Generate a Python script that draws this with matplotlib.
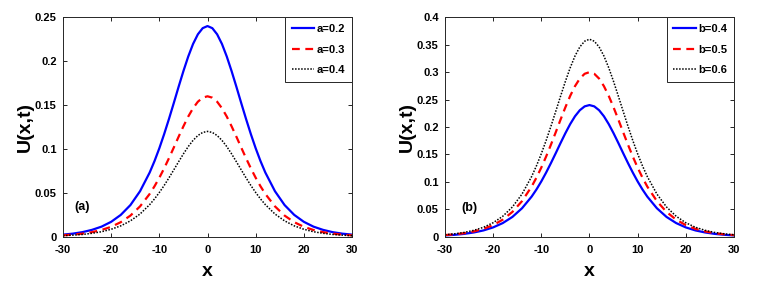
import numpy as np
import matplotlib.pyplot as plt

plt.rcParams['font.family'] = ['Liberation Sans', 'DejaVu Sans']
plt.rcParams['font.weight'] = 'bold'

# x positions (finer near the peak)
x = [-30, -28, -26, -24, -22, -20, -18, -16, -14, -12, -11, -10, -9, -8, -7, -6,
     -5, -4, -3, -2, -1, 0, 1, 2, 3, 4, 5, 6, 7, 8, 9, 10, 11, 12, 14, 16, 18,
     20, 22, 24, 26, 28, 30]

# panel (a)
a02 = [0.0024, 0.0035, 0.0052, 0.0078, 0.0115, 0.0170, 0.0249, 0.0361, 0.0519, 0.0732,
       0.0862, 0.1008, 0.1169, 0.1342, 0.1523, 0.1708, 0.1887, 0.2053, 0.2196, 0.2306,
       0.2376, 0.2400, 0.2376, 0.2306, 0.2196, 0.2053, 0.1887, 0.1708, 0.1523, 0.1342,
       0.1169, 0.1008, 0.0862, 0.0732, 0.0519, 0.0361, 0.0249, 0.0170, 0.0115, 0.0078,
       0.0052, 0.0035, 0.0024]
a03 = [0.0016, 0.0024, 0.0035, 0.0052, 0.0077, 0.0113, 0.0166, 0.0241, 0.0346, 0.0488,
       0.0575, 0.0672, 0.0779, 0.0895, 0.1016, 0.1139, 0.1258, 0.1369, 0.1464, 0.1538,
       0.1584, 0.1600, 0.1584, 0.1538, 0.1464, 0.1369, 0.1258, 0.1139, 0.1016, 0.0895,
       0.0779, 0.0672, 0.0575, 0.0488, 0.0346, 0.0241, 0.0166, 0.0113, 0.0077, 0.0052,
       0.0035, 0.0024, 0.0016]
a04 = [0.0012, 0.0018, 0.0026, 0.0039, 0.0057, 0.0085, 0.0124, 0.0181, 0.0259, 0.0366,
       0.0431, 0.0504, 0.0584, 0.0671, 0.0762, 0.0854, 0.0944, 0.1027, 0.1098, 0.1153,
       0.1188, 0.1200, 0.1188, 0.1153, 0.1098, 0.1027, 0.0944, 0.0854, 0.0762, 0.0671,
       0.0584, 0.0504, 0.0431, 0.0366, 0.0259, 0.0181, 0.0124, 0.0085, 0.0057, 0.0039,
       0.0026, 0.0018, 0.0012]

# panel (b)
b04 = [0.0024, 0.0035, 0.0052, 0.0078, 0.0115, 0.0170, 0.0249, 0.0361, 0.0519, 0.0732,
       0.0862, 0.1008, 0.1169, 0.1342, 0.1523, 0.1708, 0.1887, 0.2053, 0.2196, 0.2306,
       0.2376, 0.2400, 0.2376, 0.2306, 0.2196, 0.2053, 0.1887, 0.1708, 0.1523, 0.1342,
       0.1169, 0.1008, 0.0862, 0.0732, 0.0519, 0.0361, 0.0249, 0.0170, 0.0115, 0.0078,
       0.0052, 0.0035, 0.0024]
b05 = [0.0030, 0.0044, 0.0065, 0.0097, 0.0144, 0.0212, 0.0311, 0.0452, 0.0649, 0.0915,
       0.1078, 0.1260, 0.1461, 0.1677, 0.1904, 0.2135, 0.2359, 0.2567, 0.2745, 0.2883,
       0.2970, 0.3000, 0.2970, 0.2883, 0.2745, 0.2567, 0.2359, 0.2135, 0.1904, 0.1677,
       0.1461, 0.1260, 0.1078, 0.0915, 0.0649, 0.0452, 0.0311, 0.0212, 0.0144, 0.0097,
       0.0065, 0.0044, 0.0030]
b06 = [0.0036, 0.0053, 0.0078, 0.0117, 0.0172, 0.0255, 0.0373, 0.0542, 0.0778, 0.1098,
       0.1293, 0.1512, 0.1753, 0.2013, 0.2285, 0.2562, 0.2831, 0.3080, 0.3295, 0.3460,
       0.3564, 0.3600, 0.3564, 0.3460, 0.3295, 0.3080, 0.2831, 0.2562, 0.2285, 0.2013,
       0.1753, 0.1512, 0.1293, 0.1098, 0.0778, 0.0542, 0.0373, 0.0255, 0.0172, 0.0117,
       0.0078, 0.0053, 0.0036]

xticks = [-30, -20, -10, 0, 10, 20, 30]
yticks_a = [0, 0.05, 0.1, 0.15, 0.2, 0.25]
ytl_a = ['0', '0.05', '0.1', '0.15', '0.2', '0.25']
yticks_b = [0, 0.05, 0.1, 0.15, 0.2, 0.25, 0.3, 0.35, 0.4]
ytl_b = ['0', '0.05', '0.1', '0.15', '0.2', '0.25', '0.3', '0.35', '0.4']

fig = plt.figure(figsize=(7.58, 2.88), dpi=100)
ax1 = fig.add_axes([0.0831, 0.178, 0.3813, 0.762])
ax2 = fig.add_axes([0.587, 0.178, 0.3813, 0.762])


def style(ax, yt, ytl, ymax, series, labels, tag, tagpos):
    ax.plot(x, series[0], color='#0000ff', lw=1.6, ls='-', label=labels[0])
    ax.plot(x, series[1], color='#ff0000', lw=1.6, ls=(0, (3.5, 2.5)), label=labels[1])
    ax.plot(x, series[2], color='black', lw=1.1, ls=(0, (1, 1)), label=labels[2])
    ax.set_xlim(-30, 30)
    ax.set_ylim(0, ymax)
    ax.set_xticks(xticks)
    ax.set_xticklabels([str(t) for t in xticks])
    ax.set_yticks(yt)
    ax.set_yticklabels(ytl)
    ax.tick_params(direction='in', length=3, width=0.6, top=True, right=True,
                   labelsize=8)
    ax.tick_params(axis='x', pad=6)
    ax.tick_params(axis='y', pad=4.5)
    for s in ax.spines.values():
        s.set_linewidth(0.7)
        s.set_color('#262626')
    ax.set_xlabel('x', fontsize=14, fontweight='bold', labelpad=6)
    ax.set_ylabel('U(x,t)', fontsize=14, fontweight='bold', labelpad=1)
    ax.text(tagpos[0], tagpos[1], tag, fontsize=9, fontweight='bold',
            ha='center', va='center')
    leg = ax.legend(loc='upper right', fontsize=8, frameon=True, fancybox=False,
                    edgecolor='#262626', framealpha=1, handlelength=2.0,
                    borderaxespad=0, borderpad=0.6, labelspacing=0.95,
                    handletextpad=0.25)
    leg.get_frame().set_linewidth(0.7)


style(ax1, yticks_a, ytl_a, 0.25, [a02, a03, a04], ['a=0.2', 'a=0.3', 'a=0.4'],
      '(a)', (-26, 0.034))
style(ax2, yticks_b, ytl_b, 0.4, [b04, b05, b06], ['b=0.4', 'b=0.5', 'b=0.6'],
      '(b)', (-25, 0.052))

fig.savefig('out.png', dpi=100)
